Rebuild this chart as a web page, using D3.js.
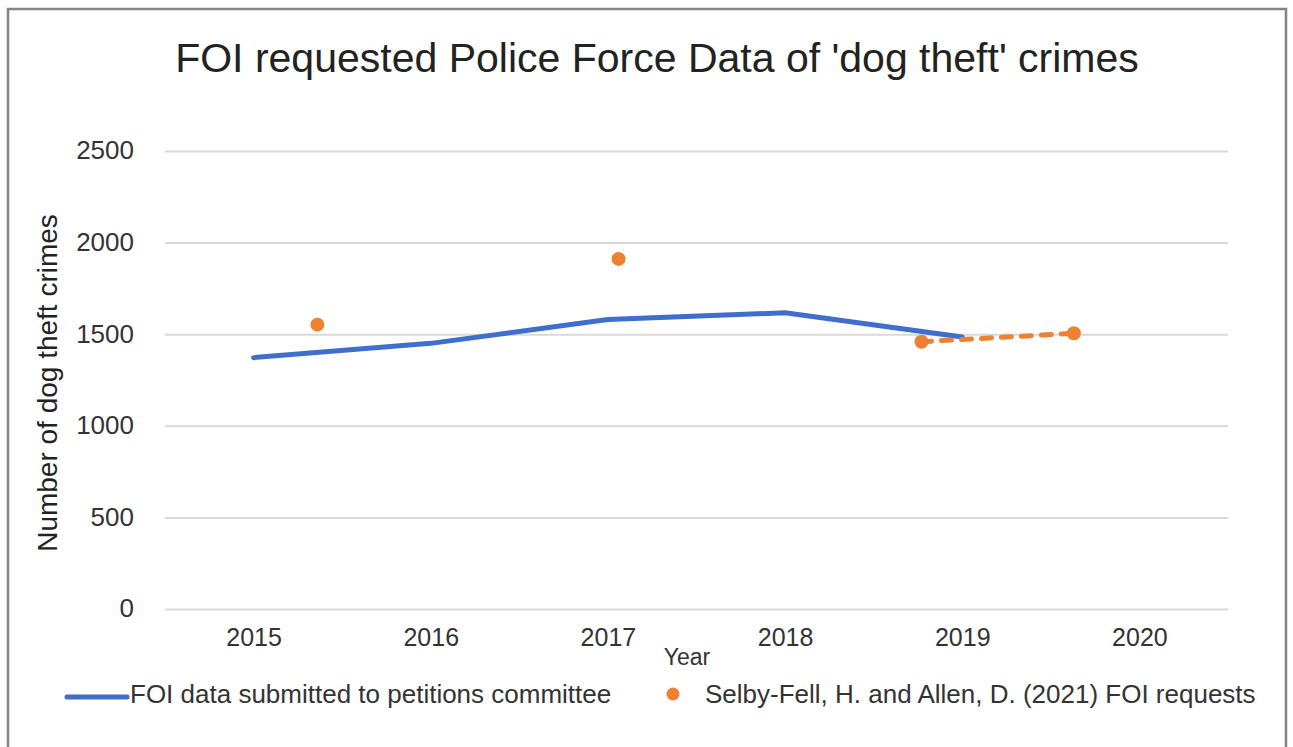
<!DOCTYPE html>
<html lang="en">
  <head>
    <meta charset="utf-8">
    <title>FOI dog theft crimes</title>
    <script type="text/javascript" src="https://cdn.jsdelivr.net/npm/d3@7"></script>
    <style>
    body {
      margin: 0;
      background: #ffffff;
    }
    #chart text {
      font-family: "Liberation Sans", Arial, sans-serif;
      fill: #333333;
    }
    </style>
  </head>
  <body>
    <div id="chart"></div>

    <script type="text/javascript">

      // data
      var petitionYears = [2015, 2016, 2017, 2018, 2019];
      var petitionCounts = [1372, 1450, 1580, 1617, 1485];

      var selbyYears = [2015.36, 2017.06, 2018.77, 2019.63];
      var selbyCounts = [1552, 1911, 1459, 1505];
      var selbyDashed = [false, false, true, true]; // dashed link between the last two

      var xTicks = [2015, 2016, 2017, 2018, 2019, 2020];
      var yTicks = [0, 500, 1000, 1500, 2000, 2500];

      var seriesNames = [
        'FOI data submitted to petitions committee',
        'Selby-Fell, H. and Allen, D. (2021) FOI requests'
      ];

      var dims = { w: 1293, h: 747 };
      var plot = { left: 165, right: 1228, top: 151, bottom: 609 };

      var svg = d3.select('#chart')
        .append('svg')
          .attr('width', dims.w)
          .attr('height', dims.h);

      // outer frame (no bottom edge visible)
      svg.append('path')
        .attr('d', 'M8,' + dims.h + ' V9 H1286 V' + dims.h)
        .attr('fill', 'none')
        .attr('stroke', '#858585')
        .attr('stroke-width', 2.5);

      // scales
      var xScale = d3.scaleLinear()
        .domain([2014.5, 2020.5])
        .range([plot.left, plot.right]);

      var yScale = d3.scaleLinear()
        .domain([0, 2500])
        .range([plot.bottom, plot.top]);

      // title
      svg.append('text')
        .attr('x', 657)
        .attr('y', 72)
        .attr('text-anchor', 'middle')
        .style('font-size', '41px')
        .style('fill', '#222222')
        .text("FOI requested Police Force Data of 'dog theft' crimes");

      // gridlines + y labels
      var yAxis = d3.axisLeft(yScale)
        .tickValues(yTicks)
        .tickSize(-(plot.right - plot.left))
        .tickPadding(31)
        .tickFormat(d3.format('d'));

      var yG = svg.append('g')
        .attr('transform', 'translate(' + plot.left + ',0)')
        .call(yAxis);
      yG.select('.domain').remove();
      yG.selectAll('.tick line')
        .attr('stroke', '#d9d9d9')
        .attr('stroke-width', 2);
      yG.selectAll('.tick text')
        .style('font-size', '26px')
        .attr('dy', '0.3em');

      // x labels
      var xAxis = d3.axisBottom(xScale)
        .tickValues(xTicks)
        .tickSize(0)
        .tickPadding(19)
        .tickFormat(d3.format('d'));

      var xG = svg.append('g')
        .attr('transform', 'translate(0,' + plot.bottom + ')')
        .call(xAxis);
      xG.select('.domain').remove();
      xG.selectAll('.tick text')
        .style('font-size', '25px');

      // axis titles
      svg.append('text')
        .attr('x', 687)
        .attr('y', 665)
        .attr('text-anchor', 'middle')
        .style('font-size', '23px')
        .text('Year');

      svg.append('text')
        .attr('transform', 'translate(57,' + ((plot.top + plot.bottom) / 2 + 3) + ') rotate(-90)')
        .attr('text-anchor', 'middle')
        .style('font-size', '28px')
        .style('fill', '#222222')
        .text('Number of dog theft crimes');

      // blue series
      var petitionData = petitionYears.map(function(y, i) {
        return { x: y, y: petitionCounts[i] };
      });
      var line = d3.line()
        .x(function(d) { return xScale(d.x); })
        .y(function(d) { return yScale(d.y); });

      svg.append('path')
        .datum(petitionData)
        .attr('d', line)
        .attr('fill', 'none')
        .attr('stroke', '#3f6fcd')
        .attr('stroke-width', 5)
        .attr('stroke-linecap', 'round')
        .attr('stroke-linejoin', 'round');

      // orange series
      var selbyData = selbyYears.map(function(y, i) {
        return { x: y, y: selbyCounts[i], dashed: selbyDashed[i] };
      });

      svg.append('path')
        .datum(selbyData.filter(function(d) { return d.dashed; }))
        .attr('d', line)
        .attr('fill', 'none')
        .attr('stroke', '#ef7f31')
        .attr('stroke-width', 5)
        .attr('stroke-dasharray', '10,10')
        .attr('stroke-linecap', 'round');

      svg.selectAll('.selby-dot')
        .data(selbyData)
        .enter()
        .append('circle')
          .attr('class', 'selby-dot')
          .attr('cx', function(d) { return xScale(d.x); })
          .attr('cy', function(d) { return yScale(d.y); })
          .attr('r', 7)
          .attr('fill', '#ef7f31');

      // legend
      var legend = svg.append('g');
      legend.append('line')
        .attr('x1', 67).attr('x2', 127)
        .attr('y1', 697).attr('y2', 697)
        .attr('stroke', '#3f6fcd')
        .attr('stroke-width', 5)
        .attr('stroke-linecap', 'round');
      legend.append('text')
        .attr('x', 130)
        .attr('y', 703)
        .style('font-size', '26px')
        .text(seriesNames[0]);
      legend.append('circle')
        .attr('cx', 673)
        .attr('cy', 694)
        .attr('r', 6.5)
        .attr('fill', '#ef7f31');
      legend.append('text')
        .attr('x', 705)
        .attr('y', 703)
        .style('font-size', '26px')
        .text(seriesNames[1]);

    </script>
  </body>
</html>
